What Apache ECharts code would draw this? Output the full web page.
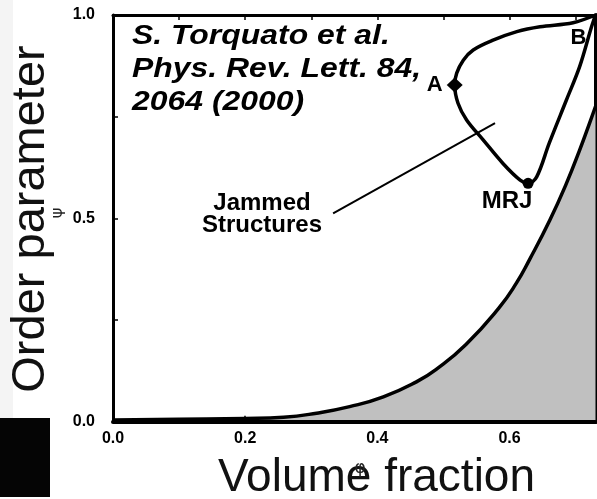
<!DOCTYPE html>
<html>
<head>
<meta charset="utf-8">
<script src="https://cdn.jsdelivr.net/npm/echarts@6/dist/echarts.min.js"></script>
<style>
html,body{margin:0;padding:0;background:#fff;}
#chart{width:597px;height:499px;}
</style>
</head>
<body>
<div id="chart"></div>
<script>
// ---- data ----
const xTickLabels = ['0.0', '0.2', '0.4', '0.6'];
const yTickLabels = ['0.0', '0.5', '1.0'];

// lower boundary of the gray region (volume fraction, order parameter)
const boundaryX = [0.000, 0.100, 0.200, 0.258, 0.308, 0.358, 0.409, 0.459, 0.490, 0.534, 0.584, 0.610, 0.630, 0.661, 0.686, 0.706, 0.719, 0.730];
const boundaryY = [0.004, 0.006, 0.008, 0.011, 0.021, 0.037, 0.061, 0.098, 0.130, 0.190, 0.280, 0.340, 0.398, 0.496, 0.586, 0.668, 0.725, 0.775];

// jammed-structures loop, B -> A -> MRJ -> B
const loopX = [0.730, 0.696, 0.646, 0.611, 0.575, 0.545, 0.530, 0.520, 0.517, 0.522, 0.535, 0.560, 0.590, 0.616, 0.628, 0.641, 0.660, 0.686, 0.706, 0.724, 0.730];
const loopY = [1.000, 0.981, 0.971, 0.959, 0.938, 0.914, 0.889, 0.857, 0.828, 0.783, 0.742, 0.693, 0.635, 0.594, 0.586, 0.602, 0.685, 0.791, 0.873, 0.971, 1.000];

// labelled points
const pointNames = ['A', 'MRJ', 'B'];
const pointX = [0.517, 0.628, 0.730];
const pointY = [0.828, 0.586, 1.000];

// arrow from "Jammed Structures" into the loop
const arrowFrom = [0.333, 0.512];
const arrowTo = [0.578, 0.734];

const citationLines = ['S. Torquato et al.', 'Phys. Rev. Lett. 84,', '2064 (2000)'];
const annotationLines = ['Jammed', 'Structures'];
const xTitle = 'Volume fraction';
const yTitle = 'Order parameter';

// ---- chart ----
const FONT = '"Liberation Sans", Arial, Helvetica, sans-serif';
const chart = echarts.init(document.getElementById('chart'), null, {renderer: 'canvas'});

function xFmt(v) {
  if (Math.abs(v * 5 - Math.round(v * 5)) > 1e-6) return '';
  const s = v.toFixed(1);
  return xTickLabels.indexOf(s) >= 0 ? s : '';
}
function yFmt(v) {
  if (Math.abs(v * 2 - Math.round(v * 2)) > 1e-6) return '';
  const s = v.toFixed(1);
  return yTickLabels.indexOf(s) >= 0 ? s : '';
}

const pointStyles = {
  'A':   {symbol: 'diamond', symbolSize: [16, 15], label: {position: 'left', distance: 4, fontSize: 22}},
  'MRJ': {symbol: 'circle', symbolSize: 11, label: {position: 'bottom', distance: 1, offset: [-21, 0], fontSize: 24}},
  'B':   {symbol: 'circle', symbolSize: 1, label: {position: 'inside', offset: [-17, 23], fontSize: 22}}
};

const option = {
  backgroundColor: '#ffffff',
  animation: false,
  grid: {left: 113, right: 1.5, top: 15, bottom: 77.3, containLabel: false},
  xAxis: [
    {
      type: 'value', position: 'bottom', min: 0, max: 0.73, interval: 0.2, z: 5,
      axisLine: {show: true, onZero: false, lineStyle: {color: '#000', width: 4}},
      axisTick: {show: false},
      splitLine: {show: false},
      axisLabel: {show: true, formatter: xFmt, margin: 9, color: '#000', fontSize: 16, fontWeight: 'bold', fontFamily: FONT, showMaxLabel: false}
    },
    {
      type: 'value', position: 'top', min: 0, max: 0.73, interval: 0.1,
      axisLine: {show: true, onZero: false, lineStyle: {color: '#000', width: 3}},
      axisTick: {show: true, inside: true, length: 5, lineStyle: {color: '#000', width: 1.5}},
      splitLine: {show: false},
      axisLabel: {show: false}
    },
    {
      type: 'value', position: 'bottom', min: 0, max: 0.73, interval: 0.2, z: 0,
      axisLine: {show: false},
      axisTick: {show: true, inside: true, length: 6, lineStyle: {color: '#000', width: 1.5}},
      splitLine: {show: false},
      axisLabel: {show: false}
    }
  ],
  yAxis: [
    {
      type: 'value', position: 'left', min: 0, max: 1, interval: 0.25,
      axisLine: {show: true, onZero: false, lineStyle: {color: '#000', width: 3}},
      axisTick: {show: true, inside: true, length: 5, lineStyle: {color: '#000', width: 1.5}},
      splitLine: {show: false},
      axisLabel: {show: true, formatter: yFmt, margin: 18, color: '#000', fontSize: 16, fontWeight: 'bold', fontFamily: FONT}
    },
    {
      type: 'value', position: 'right', min: 0, max: 1, interval: 0.25,
      axisLine: {show: true, onZero: false, lineStyle: {color: '#000', width: 4}},
      axisTick: {show: false}, splitLine: {show: false}, axisLabel: {show: false}
    }
  ],
  series: [
    {
      type: 'line', name: 'boundary', xAxisIndex: 0, yAxisIndex: 0, z: 2,
      data: boundaryX.map((x, i) => [x, boundaryY[i]]),
      smooth: 0.5, symbol: 'none',
      lineStyle: {color: '#000', width: 3.5},
      areaStyle: {color: '#c0c0c0', opacity: 1, origin: 'start'}
    },
    {
      type: 'line', name: 'jammed', xAxisIndex: 0, yAxisIndex: 0, z: 3,
      data: loopX.map((x, i) => [x, loopY[i]]),
      smooth: 0.35, symbol: 'none',
      lineStyle: {color: '#000', width: 3.5},
      markLine: {
        silent: true, animation: false,
        symbol: ['none', 'arrow'], symbolSize: [0, 11],
        label: {show: false},
        lineStyle: {color: '#000', width: 2, type: 'solid', opacity: 1},
        data: [[{coord: arrowFrom}, {coord: arrowTo}]]
      }
    },
    {
      type: 'scatter', name: 'points', xAxisIndex: 0, yAxisIndex: 0, z: 4,
      itemStyle: {color: '#000', opacity: 1},
      data: pointNames.map((n, i) => {
        const st = pointStyles[n];
        return {
          name: n, value: [pointX[i], pointY[i]],
          symbol: st.symbol, symbolSize: st.symbolSize,
          itemStyle: {color: '#000', opacity: 1},
          label: Object.assign({show: true, formatter: n, color: '#000', opacity: 1, fontWeight: 'bold', fontFamily: FONT}, st.label)
        };
      })
    }
  ],
  graphic: [
    {type: 'rect', shape: {x: 0, y: 0, width: 13, height: 418}, style: {fill: '#f4f4f4'}, z: -10, silent: true},
    {type: 'rect', shape: {x: 0, y: 418, width: 50, height: 79}, style: {fill: '#050505'}, z: 10, silent: true},
    {
      type: 'text', x: 132, y: 20, scaleX: 1.14, z: 10, silent: true,
      style: {text: citationLines.join('\n'), fill: '#000', font: 'italic bold 28px ' + FONT, lineHeight: 33, align: 'left', verticalAlign: 'top'}
    },
    {
      type: 'text', x: 262, y: 192, z: 10, silent: true,
      style: {text: annotationLines.join('\n'), fill: '#000', font: 'bold 24px ' + FONT, lineHeight: 22, align: 'center', verticalAlign: 'top'}
    },
    {
      type: 'text', x: 31.5, y: 219, rotation: Math.PI / 2, z: 10, silent: true,
      style: {text: yTitle, fill: '#111', font: '47px ' + FONT, align: 'center', verticalAlign: 'middle'}
    },
    {
      type: 'text', x: 376.5, y: 478.5, z: 10, silent: true,
      style: {text: xTitle, fill: '#111', font: '46px ' + FONT, align: 'center', verticalAlign: 'middle'}
    },
    {
      type: 'text', x: 58, y: 213, rotation: Math.PI / 2, z: 11, silent: true,
      style: {text: 'ψ', fill: '#222', font: '16px "DejaVu Sans", sans-serif', align: 'center', verticalAlign: 'middle'}
    },
    {
      type: 'text', x: 360, y: 469, z: 11, silent: true,
      style: {text: 'φ', fill: '#222', font: '17px "DejaVu Sans", sans-serif', align: 'center', verticalAlign: 'middle'}
    }
  ]
};
chart.setOption(option);
</script>
</body>
</html>
